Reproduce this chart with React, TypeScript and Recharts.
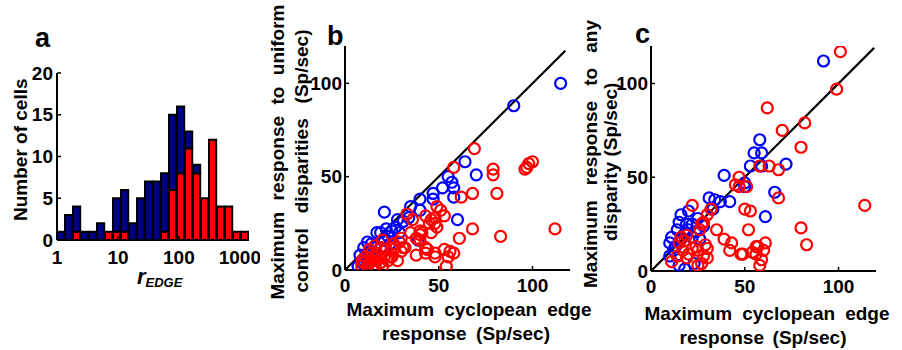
import React from 'react';
import { BarChart, Bar, XAxis, YAxis, ScatterChart, Scatter, ReferenceLine } from 'recharts';

// panel a: histogram of r_EDGE (log10 bin centres)
const binCenters = [
  0.066, 0.197, 0.328, 0.459, 0.591, 0.722, 0.853, 0.984, 1.116, 1.247, 1.378, 1.509,
  1.641, 1.772, 1.903, 2.034, 2.166, 2.297, 2.428, 2.559, 2.691, 2.822, 2.953, 3.084,
];
const totalCounts = [1, 3, 4, 1, 1, 2, 1, 5, 6, 2, 5, 7, 7, 8, 15, 16, 13, 9, 5, 12, 4, 4, 1, 1];
const redCounts = [0, 0, 1, 0, 0, 0, 1, 1, 1, 0, 0, 0, 0, 1, 6, 8, 11, 8, 5, 12, 4, 4, 1, 1];
const histTicksX = [0, 1, 2, 3];
const histTicksY = [0, 5, 10, 15, 20];

// panel b: uniform control disparities vs cyclopean edge
const bBlue = [
  [115, 100], [90, 88], [64, 58], [70, 51], [55, 50], [57, 47], [52, 44], [58, 44], [58, 39],
  [47, 38], [47, 41], [40, 38], [35, 34], [40, 32], [34, 28], [60, 27], [21, 31], [28, 27],
  [31, 26], [27, 23], [25, 21], [29, 20], [23, 18], [21, 16], [17, 20], [19, 20], [39, 16],
  [12, 15], [10, 12], [11, 7], [9, 4], [14, 9], [16, 12], [19, 12], [12, 2], [17, 5], [8, 8],
  [14, 14], [10, 5], [7, 2], [24, 14], [22, 22],
];
const bRed = [
  [69, 65], [58, 55], [79, 54], [79, 51], [96, 54], [97, 55], [98, 57], [100, 58], [68, 41],
  [62, 39], [81, 41], [68, 22], [83, 18], [112, 22], [61, 17], [49, 34], [51, 32], [53, 29],
  [48, 28], [48, 25], [46, 20], [53, 11], [56, 10], [58, 9], [55, 7], [48, 9], [54, 2],
  [33, 30], [36, 27], [43, 29], [46, 27], [45, 25], [40, 21], [41, 20], [35, 20], [40, 16],
  [38, 17], [43, 12], [44, 11], [30, 17], [31, 12], [26, 11], [30, 10], [32, 12], [28, 5],
  [25, 7], [10, 4], [12, 2], [15, 5], [16, 2], [17, 5], [19, 4], [21, 7], [23, 5], [17, 9],
  [14, 9], [16, 13], [19, 12], [22, 11], [25, 12], [20, 16], [26, 14], [9, 5], [11, 7],
  [13, 11], [16, 7], [38, 8], [43, 9], [48, 7], [29, 15], [24, 7], [9, 2], [13, 4], [20, 2],
  [40, 19], [49, 23],
];

// panel c: any disparity vs cyclopean edge
const cBlue = [
  [92, 112], [58, 70], [55, 63], [59, 63], [53, 56], [59, 56], [72, 57], [50, 45], [66, 42],
  [61, 29], [39, 51], [50, 47], [31, 39], [34, 38], [37, 37], [42, 37], [16, 30], [20, 32],
  [15, 26], [19, 25], [14, 22], [22, 25], [25, 28], [11, 18], [10, 15], [12, 11], [10, 8],
  [15, 3], [18, 1], [23, 4], [18, 20], [22, 18], [26, 17], [16, 17], [13, 13], [20, 22],
  [24, 21], [28, 24], [33, 33],
];
const cRed = [
  [101, 117], [99, 97], [62, 87], [82, 79], [70, 75], [80, 66], [58, 56], [63, 56], [68, 54],
  [47, 50], [51, 45], [45, 46], [68, 39], [114, 35], [50, 33], [53, 32], [52, 22], [80, 23],
  [83, 14], [61, 15], [56, 13], [54, 10], [49, 9], [59, 6], [22, 35], [32, 33], [30, 30],
  [28, 26], [26, 22], [27, 25], [35, 22], [39, 17], [43, 15], [42, 11], [48, 9], [57, 13],
  [56, 9], [60, 11], [58, 3], [11, 5], [14, 8], [15, 15], [17, 11], [18, 16], [20, 9],
  [19, 7], [22, 12], [24, 13], [25, 11], [27, 4], [28, 8], [29, 14], [30, 12], [16, 18],
  [19, 19], [30, 7], [25, 3], [47, 45],
];
const scatterTicks = [0, 50, 100];

const FONT = "'Liberation Sans', Arial, Helvetica, sans-serif";
const tickStyle = { fontSize: 19, fontWeight: 700, fill: '#000', fontFamily: FONT };

const histData = binCenters.map((c, i) => ({
  x: c,
  red: redCounts[i],
  blue: totalCounts[i] - redCounts[i],
}));
const toPts = (arr: number[][]) => arr.map(([x, y]) => ({ x, y }));

const ring = (color: string) => (props: any) => (
  <circle cx={props.cx} cy={props.cy} r={5.5} fill="none" stroke={color} strokeWidth={2.2} />
);

// justified text line, optionally rotated
const Line = ({ text, cx, cy, len, rotate }: { text: string; cx: number; cy: number; len: number; rotate?: boolean }) => (
  <div
    style={{
      position: 'absolute',
      left: cx - len / 2,
      top: cy - 10,
      width: len,
      height: 20,
      lineHeight: '20px',
      fontSize: 19,
      fontWeight: 700,
      fontFamily: FONT,
      textAlign: 'justify',
      textAlignLast: 'justify',
      whiteSpace: 'nowrap',
      transform: rotate ? 'rotate(-90deg)' : undefined,
      color: '#000',
    }}
  >
    {text}
  </div>
);

const Scat = ({ left, blue, red, lineEnd, height }: { left: number; blue: number[][]; red: number[][]; lineEnd: number; height: number }) => (
  <div style={{ position: 'absolute', left, top: 0 }}>
    <ScatterChart width={281} height={height} margin={{ top: 46, right: 11, left: 0, bottom: 0 }}>
      <XAxis
        type="number"
        dataKey="x"
        domain={[0, 120]}
        ticks={scatterTicks}
        height={30}
        tick={tickStyle}
        tickSize={-4}
        tickMargin={13}
        axisLine={{ stroke: '#000', strokeWidth: 2 }}
        tickLine={{ stroke: '#000', strokeWidth: 1.5 }}
        allowDataOverflow
      />
      <YAxis
        type="number"
        dataKey="y"
        domain={[0, 120]}
        ticks={scatterTicks}
        width={45}
        tick={tickStyle}
        tickSize={-4}
        tickMargin={7}
        axisLine={{ stroke: '#000', strokeWidth: 2 }}
        tickLine={{ stroke: '#000', strokeWidth: 1.5 }}
        allowDataOverflow
      />
      <Scatter data={toPts(blue)} shape={ring('#0000ff')} isAnimationActive={false} />
      <Scatter data={toPts(red)} shape={ring('#ff0000')} isAnimationActive={false} />
      <ReferenceLine
        segment={[{ x: 0, y: 0 }, { x: lineEnd, y: lineEnd }]}
        stroke="#000"
        strokeWidth={2.2}
        ifOverflow="visible"
      />
    </ScatterChart>
  </div>
);

export default function App() {
  return (
    <div style={{ position: 'absolute', left: 0, top: 0, width: 902, height: 350, background: '#fff', overflow: 'hidden' }}>
      <div style={{ position: 'absolute', left: 0, top: 0 }}>
        <BarChart width={260} height={300} data={histData} margin={{ top: 73, right: 11, left: 17, bottom: 0 }}>
          <XAxis
            type="number"
            dataKey="x"
            domain={[0, 3.15]}
            ticks={histTicksX}
            tickFormatter={(v: number) => String(Math.round(Math.pow(10, v)))}
            height={60}
            tick={tickStyle}
            tickSize={-4}
            tickMargin={15}
            axisLine={{ stroke: '#000', strokeWidth: 2 }}
            tickLine={{ stroke: '#000', strokeWidth: 1.5 }}
            allowDataOverflow
          />
          <YAxis
            type="number"
            domain={[0, 20]}
            ticks={histTicksY}
            width={40}
            tick={tickStyle}
            tickSize={-4}
            tickMargin={8}
            axisLine={{ stroke: '#000', strokeWidth: 2 }}
            tickLine={{ stroke: '#000', strokeWidth: 1.5 }}
          />
          <Bar dataKey="red" stackId="h" fill="#ff0000" stroke="#000" strokeWidth={2} barSize={8} isAnimationActive={false} />
          <Bar dataKey="blue" stackId="h" fill="#00008c" stroke="#000" strokeWidth={2} barSize={8} isAnimationActive={false} />
        </BarChart>
      </div>

      <Scat left={300} blue={bBlue} red={bRed} lineEnd={117.5} height={300} />
      <Scat left={606} blue={cBlue} red={cRed} lineEnd={119} height={301} />

      <Line text="Number of cells" cx={21} cy={151} len={140} rotate />
      <Line text="Maximum response to uniform" cx={277} cy={152} len={295} rotate />
      <Line text="control disparities (Sp/sec)" cx={301} cy={161} len={263} rotate />
      <Line text="Maximum response to any" cx={591} cy={154} len={268} rotate />
      <Line text="disparity (Sp/sec)" cx={611} cy={162} len={158} rotate />
      <Line text="Maximum cyclopean edge" cx={469} cy={310} len={245} />
      <Line text="response (Sp/sec)" cx={466} cy={334} len={168} />
      <Line text="Maximum cyclopean edge" cx={767} cy={314} len={245} />
      <Line text="response (Sp/sec)" cx={763} cy={338} len={167} />

      <svg width={902} height={350} style={{ position: 'absolute', left: 0, top: 0, pointerEvents: 'none' }}>
        <g fontFamily={FONT} fontWeight={700} fill="#000">
          <text x={35} y={47} fontSize={27}>a</text>
          <text x={327} y={45} fontSize={27}>b</text>
          <text x={635} y={43} fontSize={27}>c</text>
          <text x={137} y={284} fontSize={22} fontStyle="italic">
            r<tspan fontSize={13} dy={3}>EDGE</tspan>
          </text>
        </g>
      </svg>
    </div>
  );
}
